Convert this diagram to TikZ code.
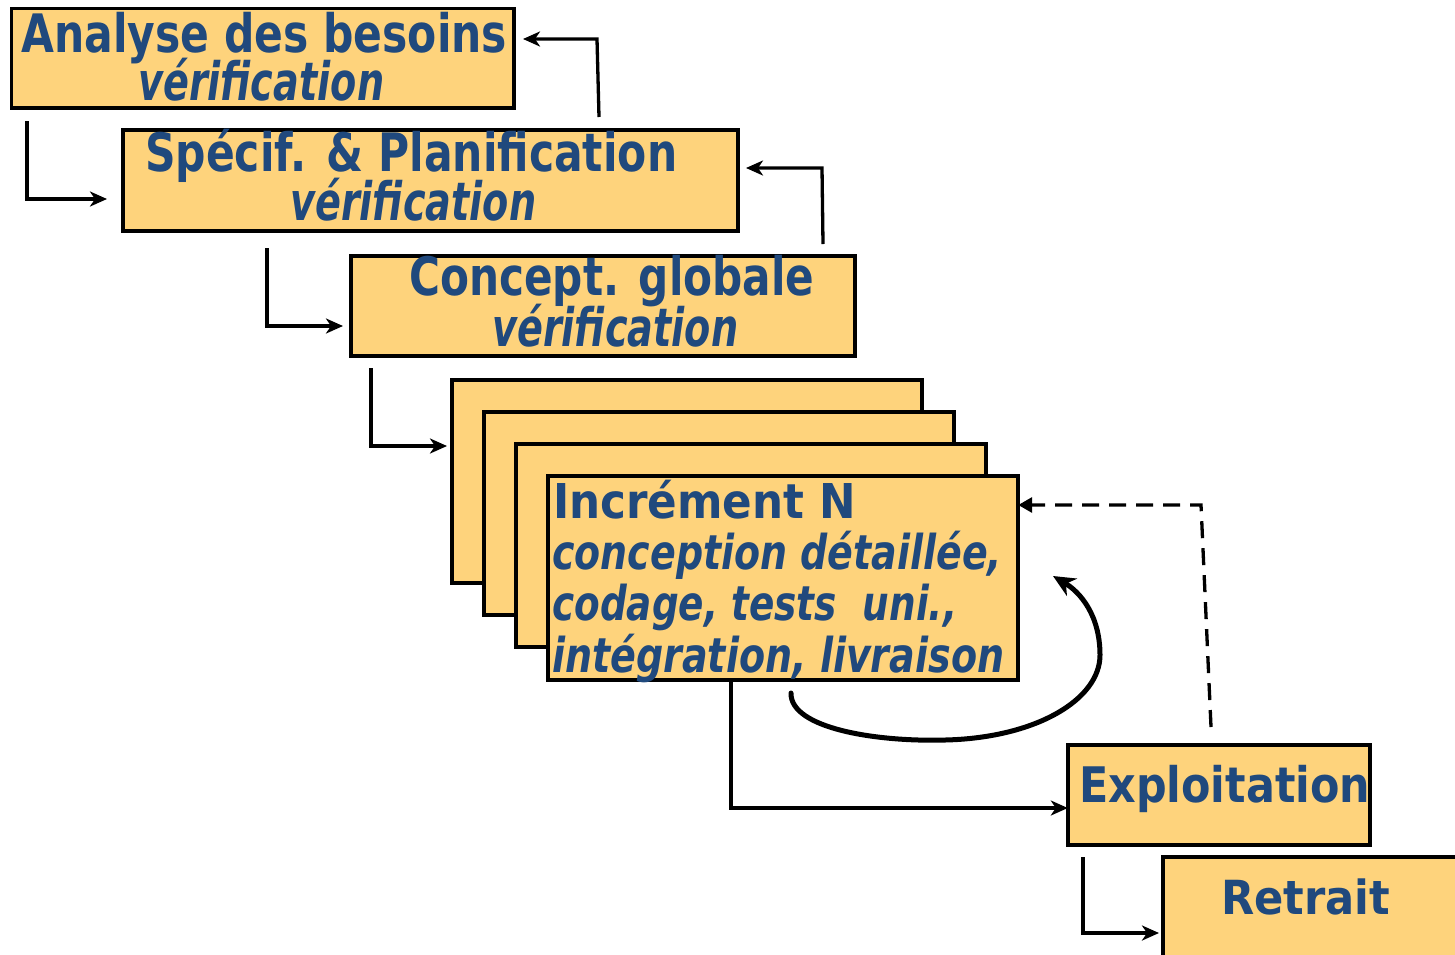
\documentclass[tikz,border=0pt]{standalone}
\usepackage{fontspec}
\usepackage{graphicx}
\setmainfont{DejaVu Sans}
\usetikzlibrary{arrows.meta,calc}

\definecolor{boxfill}{RGB}{254,211,124}
\definecolor{txtblue}{RGB}{32,73,125}

% set a line of text at a fixed printed width, keeping its natural height
\newcommand{\fitline}[2]{\resizebox{#1pt}{\height}{#2}}

\tikzset{
  phase/.style={draw=black, line width=3.6pt, fill=boxfill},
  head/.style={text=txtblue, inner sep=0pt, anchor=base west,
    font=\fontsize{53}{60}\selectfont\bfseries},
  sub/.style={text=txtblue, inner sep=0pt, anchor=base west,
    font=\fontsize{53}{60}\selectfont\bfseries\itshape},
  headsm/.style={head, font=\fontsize{48}{54}\selectfont\bfseries},
  subsm/.style={sub, font=\fontsize{48}{54}\selectfont\bfseries\itshape},
  flow/.style={line width=3.3pt, -{Stealth[length=17pt,width=15pt,inset=5pt]}},
  back/.style={line width=3.3pt, dash pattern=on 17pt off 10pt,
    -{Triangle[length=14pt,width=15pt]}},
  loop/.style={line width=5pt, line cap=round,
    -{Stealth[length=22pt,width=20pt,inset=7pt]}},
}

\begin{document}
\begin{tikzpicture}[x=1pt,y=-1pt]
\useasboundingbox (0,0) rectangle (1455,954);

% phase boxes
\draw[phase] (11.5,8.5) rectangle (514,108);
\node[inner sep=0pt] (B1) at (262.75,58.25) {};
\draw[phase] (123,130) rectangle (738,231);
\node[inner sep=0pt] (B2) at (430.5,180.5) {};
\draw[phase] (351,256) rectangle (855,356);
\node[inner sep=0pt] (B3) at (603,306) {};

% stack of increments
\draw[phase] (452,380) rectangle (922,583);
\draw[phase] (484,412) rectangle (954,615);
\draw[phase] (516,444) rectangle (986,647);
\draw[phase] (548,476) rectangle (1018,680);
\node[inner sep=0pt, minimum width=470pt, minimum height=204pt] (SD) at (783,578) {};

\draw[phase] (1068,745) rectangle (1370,845);
\node[inner sep=0pt, minimum width=302pt, minimum height=100pt] (EX) at (1219,795) {};
\draw[phase] (1163,857) rectangle (1475,980);
\node[inner sep=0pt] (RT) at (1319,918) {};

% labels
\node[head] (t1) at (21,52)  {\fitline{486}{Analyse des besoins}};
\node[sub]  (t2) at (138,100) {\fitline{246}{vérification}};
\node[head] (t3) at (145,171) {\fitline{532}{Spécif. \& Planification}};
\node[sub]  (t4) at (290,220) {\fitline{246}{vérification}};
\node[head] (t5) at (409,295) {\fitline{405}{Concept. globale}};
\node[sub]  (t6) at (492,346) {\fitline{246}{vérification}};

\node[headsm] (t7)  at (553,518) {\fitline{303}{Incrément N}};
\node[subsm]  (t8)  at (552,569) {\fitline{450}{conception détaillée,}};
\node[subsm]  (t9)  at (552,620) {\fitline{405}{codage, tests\ \ uni.,}};
\node[subsm]  (t10) at (552,672) {\fitline{452}{intégration, livraison}};

\node[head, font=\fontsize{49}{56}\selectfont\bfseries] (t11) at (1079,802) {\fitline{291}{Exploitation}};
\node[head, font=\fontsize{47}{54}\selectfont\bfseries] (t12) at (1221,914) {\fitline{169}{Retrait}};

% forward steps
\coordinate (s1) at (27,121);   \coordinate (e1) at (107,199);
\coordinate (s2) at (267,248);  \coordinate (e2) at (343,326);
\coordinate (s3) at (371,368);  \coordinate (e3) at (447,446);
\coordinate (s5) at (1083,857); \coordinate (e5) at (1159,933);
\draw[flow] (s1) |- (e1);
\draw[flow] (s2) |- (e2);
\draw[flow] (s3) |- (e3);
\draw[flow] (s5) |- (e5);
\coordinate (k) at (731,808);
\draw[flow] (SD.south -| k) |- (EX.west |- k);

% verification feedback
\coordinate (f1a) at (599,117); \coordinate (f1b) at (597,39); \coordinate (f1c) at (523,39);
\coordinate (f2a) at (823,244); \coordinate (f2b) at (822,168); \coordinate (f2c) at (746,168);
\draw[flow] (f1a) -- (f1b) -- (f1c);
\draw[flow] (f2a) -- (f2b) -- (f2c);

% return from operation
\coordinate (d1) at (1211,727); \coordinate (d2) at (1201,505);
\draw[back] (d1) -- (d2) -- (SD.east |- d2);

% iteration loop
\coordinate (l0) at (791,693); \coordinate (l1) at (945,740);
\coordinate (l2) at (1100,655); \coordinate (l3) at (1053,576);
\draw[loop] (l0) .. controls (790,728) and (875,742) .. (l1)
  .. controls (1035,738) and (1100,700) .. (l2)
  .. controls (1100,615) and (1080,592) .. (l3);
\end{tikzpicture}
\end{document}
